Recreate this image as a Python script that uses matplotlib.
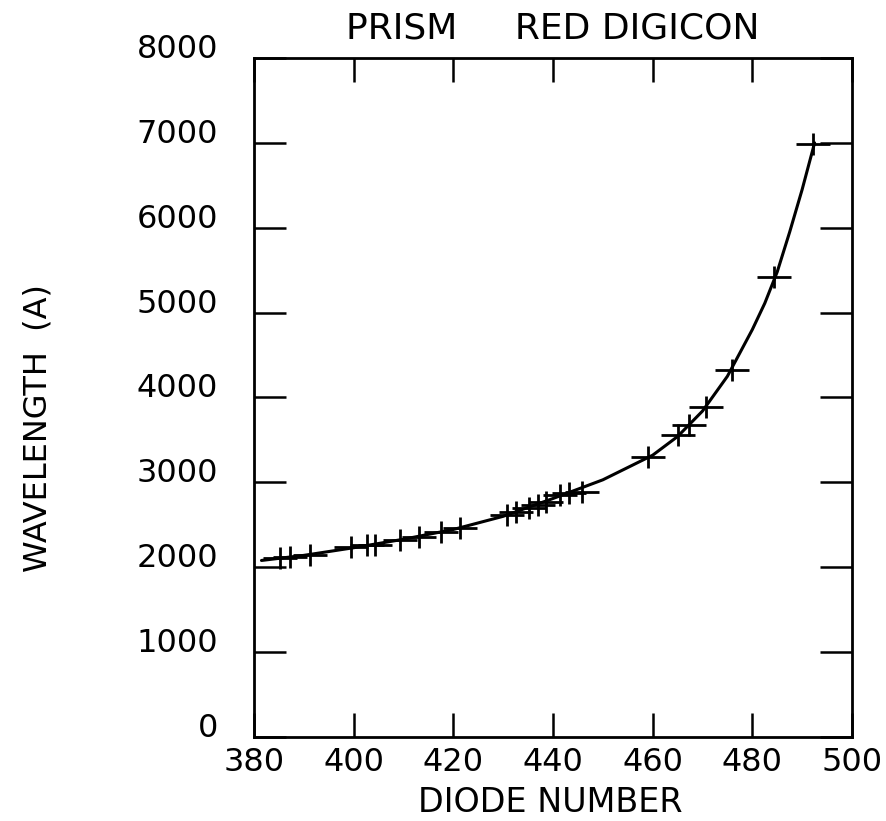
import matplotlib
matplotlib.use("Agg")
import matplotlib.pyplot as plt
from matplotlib.path import Path


# diode number / wavelength pairs
diode = [385.3, 387.2, 391.2, 399.5, 402.7, 404.2, 409.2, 413.2, 417.5, 421.3,
         430.7, 432.5, 435.2, 436.9, 438.5, 441.5, 443.2, 445.9,
         459.1, 465.1, 467.2, 470.7, 475.9, 484.4, 492.2]
wavelength = [2109, 2121, 2144, 2238, 2262, 2262, 2321, 2356, 2415, 2462,
              2615, 2654, 2694, 2733, 2772, 2851, 2871, 2890,
              3295, 3558, 3676, 3884, 4324, 5423, 6983]

# fitted dispersion curve
curve_x = [381.5, 390, 400, 410, 420, 430, 440, 450, 460, 465, 470, 475, 480,
           482.5, 485, 487.5, 490, 492.5]
curve_y = [2080, 2140, 2230, 2330, 2445, 2600, 2810, 3030, 3320, 3540, 3840, 4250, 4800,
           5110, 5480, 5950, 6450, 7000]

x_ticks = [380, 400, 420, 440, 460, 480, 500]
y_ticks = [0, 1000, 2000, 3000, 4000, 5000, 6000, 7000, 8000]


def wide_cross():
    verts = [(-1.0, 0.0), (1.0, 0.0), (0.0, -0.66), (0.0, 0.66)]
    codes = [Path.MOVETO, Path.LINETO, Path.MOVETO, Path.LINETO]
    return Path(verts, codes)


def main():
    plt.rcParams["font.family"] = ["DejaVu Sans"]
    fig = plt.figure(figsize=(8.86, 8.21), dpi=100)
    ax = fig.add_axes([0.2867, 0.1023, 0.6749, 0.8271])

    ax.plot(curve_x, curve_y, color="black", linewidth=2.2, solid_capstyle="round",
            solid_joinstyle="round")
    ax.plot(diode, wavelength, linestyle="none", marker=wide_cross(), markersize=24,
            markeredgewidth=2.0, color="black")

    ax.set_xlim(380, 500)
    ax.set_ylim(0, 8000)
    ax.set_xticks(x_ticks)
    ax.set_yticks(y_ticks)
    ax.set_xticklabels([str(v) for v in x_ticks])
    ax.set_yticklabels([str(v) for v in y_ticks])

    for spine in ax.spines.values():
        spine.set_linewidth(2.0)

    ax.tick_params(axis="x", which="major", direction="in", length=17, width=1.8,
                   top=True, bottom=True, labelsize=23, pad=7)
    ax.tick_params(axis="y", which="major", direction="in", length=23, width=1.8,
                   left=True, right=True, labelsize=23, pad=26)
    for label in ax.get_yticklabels():
        label.set_verticalalignment("baseline")

    ax.set_title("PRISM     RED DIGICON", fontsize=26, pad=14)
    ax.set_xlabel("DIODE NUMBER", fontsize=24)
    ax.xaxis.set_label_coords(0.495, -0.072)
    ax.set_ylabel("WAVELENGTH  (A)", fontsize=23)
    ax.yaxis.set_label_coords(-0.335, 0.455)

    fig.savefig("out.png", dpi=100)
    plt.close(fig)


if __name__ == "__main__":
    main()
